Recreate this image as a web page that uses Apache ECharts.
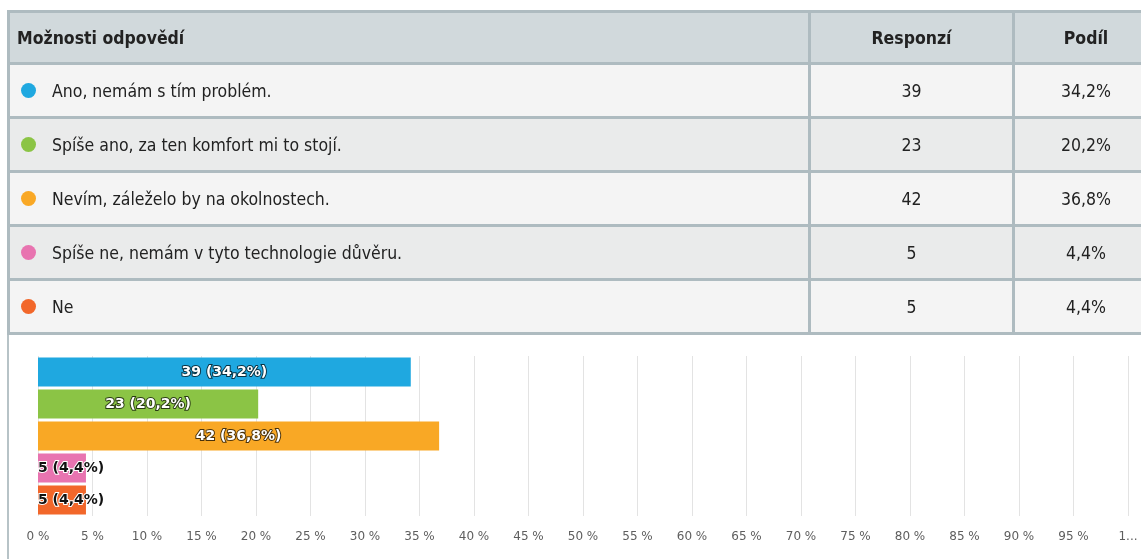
<!DOCTYPE html>
<html>
<head>
<meta charset="utf-8">
<script src="https://cdn.jsdelivr.net/npm/echarts@6/dist/echarts.min.js"></script>
<style>
  html, body { margin: 0; padding: 0; width: 1141px; height: 559px; overflow: hidden; background: #fff; }
  #chart { position: absolute; left: 0; top: 0; width: 1141px; height: 559px; }
  #frame { position: absolute; left: 7px; top: 332px; width: 2px; height: 240px; background: #b7c3c7; }
  table { position: absolute; left: 7px; top: 10px; border-collapse: collapse; width: 1150px; table-layout: fixed;
          font-family: "Liberation Sans Narrow", "DejaVu Sans Condensed", sans-serif; font-size: 17.5px; color: #222; }
  td, th { border: 3px solid #aebbc0; padding: 0; }
  th { height: 49px; background: #d1d9dc; font-weight: bold; text-align: center; }
  th.first { text-align: left; padding-left: 7px; }
  td { height: 51px; text-align: center; }
  td.first { text-align: left; padding-left: 42px; position: relative; }
  tr.odd td { background: #f4f4f4; }
  tr.even td { background: #eaebeb; }
  .dot { position: absolute; left: 11px; top: 50%; width: 15px; height: 15px; margin-top: -8px; border-radius: 50%; }
</style>
</head>
<body>
<div id="chart"></div>
<div id="frame"></div>
<table id="tbl">
  <colgroup><col style="width:801px"><col style="width:204px"><col style="width:145px"></colgroup>
  <thead></thead>
  <tbody></tbody>
</table>
<script>
const headers = ["Možnosti odpovědí", "Responzí", "Podíl"];
const categories = [
  "Ano, nemám s tím problém.",
  "Spíše ano, za ten komfort mi to stojí.",
  "Nevím, záleželo by na okolnostech.",
  "Spíše ne, nemám v tyto technologie důvěru.",
  "Ne"
];
const counts = [39, 23, 42, 5, 5];
const shares = [34.2, 20.2, 36.8, 4.4, 4.4];
const colors = ["#1fa8e0", "#8bc445", "#f9a825", "#e874b0", "#f2672a"];
const tickLabels = ["0 %","5 %","10 %","15 %","20 %","25 %","30 %","35 %","40 %","45 %","50 %","55 %","60 %","65 %","70 %","75 %","80 %","85 %","90 %","95 %","1..."];

function fmt(v) { return v.toFixed(1).replace(".", ",") + "%"; }

// table
const thead = document.querySelector("#tbl thead");
thead.innerHTML = "<tr><th class='first'>" + headers[0] + "</th><th>" + headers[1] + "</th><th>" + headers[2] + "</th></tr>";
const tbody = document.querySelector("#tbl tbody");
categories.forEach(function (c, i) {
  const tr = document.createElement("tr");
  tr.className = i % 2 === 0 ? "odd" : "even";
  tr.innerHTML = "<td class='first'><span class='dot' style='background:" + colors[i] + "'></span>" + c + "</td><td>" + counts[i] + "</td><td>" + fmt(shares[i]) + "</td>";
  tbody.appendChild(tr);
});

// chart
const chart = echarts.init(document.getElementById("chart"), null, { renderer: "canvas" });
const big = 10;
chart.setOption({
  animation: false,
  grid: { left: 38, right: 13, top: 356, height: 160, containLabel: false },
  xAxis: {
    type: "value", min: 0, max: 100, interval: 5,
    axisLine: { show: false }, axisTick: { show: false },
    splitLine: { show: true, lineStyle: { color: "#e3e3e3", width: 1 } },
    axisLabel: {
      color: "#5e5e5e", fontSize: 12, fontFamily: "DejaVu Sans", margin: 15,
      formatter: function (v) { return tickLabels[Math.round(v / 5)]; }
    }
  },
  yAxis: {
    type: "category", data: categories, inverse: true,
    axisLine: { show: false }, axisTick: { show: false }, axisLabel: { show: false }, splitLine: { show: false }
  },
  series: [{
    type: "bar",
    barWidth: 29,
    data: shares.map(function (v, i) {
      const isBig = v > big;
      return {
        value: v,
        itemStyle: { color: colors[i] },
        label: isBig ? {
          show: true, position: "inside", color: "#fff", fontWeight: "bold", fontSize: 14, fontFamily: "DejaVu Sans",
          textBorderColor: "rgba(0,0,0,0.7)", textBorderWidth: 2
        } : {
          show: true, position: "insideLeft", distance: 0, color: "#111", fontWeight: "bold", fontSize: 14, fontFamily: "DejaVu Sans",
          textBorderColor: "#fff", textBorderWidth: 2
        }
      };
    }),
    label: {
      formatter: function (p) { return counts[p.dataIndex] + " (" + fmt(shares[p.dataIndex]) + ")"; }
    }
  }]
});
</script>
</body>
</html>
